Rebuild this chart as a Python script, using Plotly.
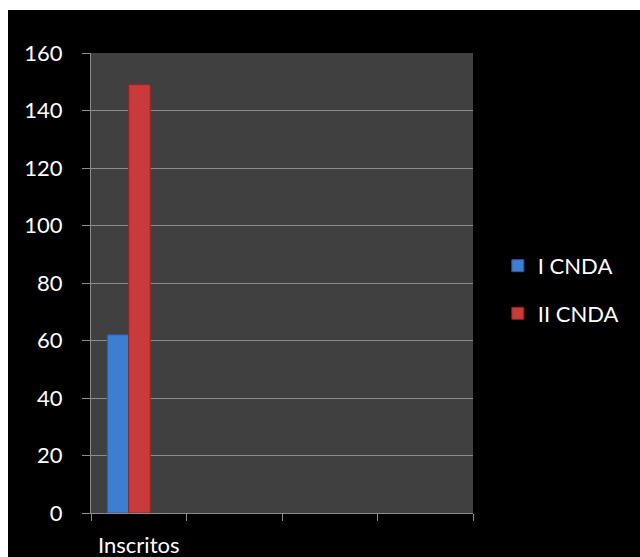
import plotly.graph_objects as go

categories = ["Inscritos", " ", "  ", "   "]
series_names = ["I CNDA", "II CNDA"]
i_cnda = [62, None, None, None]
ii_cnda = [149, None, None, None]
y_ticks = [0, 20, 40, 60, 80, 100, 120, 140, 160]

FONT = "Lato"
# the black chart sits 8px from the left and 10px from the top of a white page
OFF_X, OFF_Y = 8, 10
W, H = 640 - OFF_X, 557 - OFF_Y
L, R, T, B = 83, 167, 43, 44

fig = go.Figure()
fig.add_trace(go.Bar(
    x=categories, y=i_cnda, name=series_names[0], legendgroup="a",
    marker=dict(color="#3d7ed3", line=dict(color="#2a5a9c", width=1)),
    width=0.225, offset=-0.33,
))
fig.add_trace(go.Bar(
    x=categories, y=ii_cnda, name=series_names[1], legendgroup="b",
    marker=dict(color="#c93b3b", line=dict(color="#8e2626", width=1)),
    width=0.225, offset=-0.105,
))

fig.update_layout(
    width=W, height=H, autosize=False,
    margin=dict(l=L, r=R, t=T, b=B, pad=0, autoexpand=False),
    paper_bgcolor="black", plot_bgcolor="#404040",
    font=dict(family=FONT, size=22, color="white"),
    barmode="overlay",
    showlegend=True,
    legend=dict(x=1.065, xanchor="left", y=0.485, yanchor="middle",
                font=dict(family=FONT, size=22, color="white"),
                bgcolor="rgba(0,0,0,0)", traceorder="grouped", tracegroupgap=16),
)

fig.update_xaxes(
    type="category", categoryorder="array", categoryarray=categories,
    range=[-0.5, 3.5], tickson="boundaries", ticks="outside", ticklen=7,
    tickcolor="#8c8c8c", tickwidth=1, showline=True, linecolor="#8c8c8c", linewidth=1,
    showgrid=False, automargin=False, ticklabelstandoff=13,
    tickfont=dict(family=FONT, size=22, color="white"),
)
fig.update_yaxes(
    range=[0, 160], tickvals=y_ticks, ticks="outside", ticklen=8,
    tickcolor="#8c8c8c", showline=True, linecolor="#8c8c8c", linewidth=1,
    showgrid=True, gridcolor="#8c8c8c", gridwidth=1, zeroline=False,
    automargin=False, ticklabelstandoff=15,
    tickfont=dict(family=FONT, size=22, color="white"),
)

post = (
    "document.body.style.margin='0';"
    "document.body.style.overflow='hidden';"
    "document.body.style.background='white';"
    "var d=document.getElementById('{plot_id}');"
    "d.style.marginLeft='%dpx';d.style.marginTop='%dpx';" % (OFF_X, OFF_Y)
)

fig.write_html("out.html", config={"displayModeBar": False}, post_script=post)
